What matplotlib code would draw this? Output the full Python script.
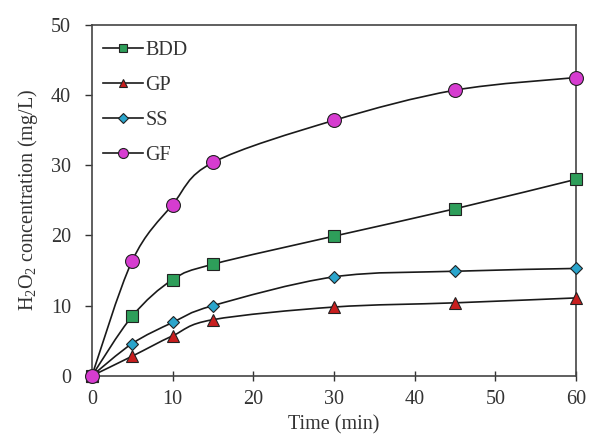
import numpy as np
import matplotlib
matplotlib.use('Agg')
import matplotlib.pyplot as plt
from matplotlib.path import Path
from matplotlib.patches import PathPatch

plt.rcParams['font.family'] = ['Liberation Serif', 'DejaVu Serif']
plt.rcParams['mathtext.fontset'] = 'custom'
plt.rcParams['mathtext.rm'] = 'Liberation Serif'

# dane
czas = [0, 5, 10, 15, 30, 45, 60]
bdd = [0, 8.5, 13.7, 15.9, 19.9, 23.8, 28.0]
gp = [0, 2.8, 5.7, 8.0, 9.8, 10.4, 11.1]
ss = [0, 4.6, 7.6, 10.0, 14.1, 14.9, 15.3]
gf = [0, 16.4, 24.4, 30.4, 36.4, 40.7, 42.5]

serie = [
    ('BDD', bdd, 's', 8, '#2e9e5a'),
    ('GP', gp, '^', 8.5, '#c81e1e'),
    ('SS', ss, 'D', 6.5, '#2aa5cc'),
    ('GF', gf, 'o', 10, '#d63cd0'),
]


def gladka_linia(ax, x, y):
    # wygladzona linia jak w Excelu (krzywe Beziera)
    x = np.asarray(x, float)
    y = np.asarray(y, float)
    verts = [(x[0], y[0])]
    codes = [Path.MOVETO]
    n = len(x)
    for i in range(n - 1):
        x0, y0 = (x[i - 1], y[i - 1]) if i > 0 else (x[i], y[i])
        x3, y3 = (x[i + 2], y[i + 2]) if i + 2 < n else (x[i + 1], y[i + 1])
        c1 = (x[i] + (x[i + 1] - x0) / 6, y[i] + (y[i + 1] - y0) / 6)
        c2 = (x[i + 1] - (x3 - x[i]) / 6, y[i + 1] - (y3 - y[i]) / 6)
        verts += [c1, c2, (x[i + 1], y[i + 1])]
        codes += [Path.CURVE4] * 3
    ax.add_patch(PathPatch(Path(verts, codes), fill=False, lw=1.2,
                           edgecolor='#1a1a1a', zorder=2))


fig = plt.figure(figsize=(5.89, 4.37), dpi=100)
ax = fig.add_axes([0.156, 0.140, 0.822, 0.803])

for nazwa, y, m, ms, kolor in serie:
    gladka_linia(ax, czas, y)
    ax.plot(czas, y, linestyle='none', marker=m, markersize=ms,
            markerfacecolor=kolor, markeredgecolor='#222222',
            markeredgewidth=0.8, zorder=3, clip_on=False)
    # wpis do legendy
    ax.plot([], [], color='#1a1a1a', lw=1.2, marker=m, markersize=ms,
            markerfacecolor=kolor, markeredgecolor='#222222',
            markeredgewidth=0.8, label=nazwa)

ax.set_xlim(0, 60)
ax.set_ylim(0, 50)
ax.set_xticks(range(0, 61, 10))
ax.set_yticks(range(0, 51, 10))
ax.tick_params(labelsize=14.5, width=1, colors='#333333', labelcolor='#333333')
ax.tick_params(axis='x', direction='inout', length=7, pad=7)
ax.tick_params(axis='y', direction='out', length=5, pad=10)
for s in ax.spines.values():
    s.set_color('#444444')
    s.set_linewidth(1.2)

ax.set_xlabel('Time (min)', fontsize=14.5, color='#333333', labelpad=4)
ax.set_ylabel(r'$\mathrm{H_2O_2}$ concentration (mg/L)', fontsize=14.5,
              color='#333333', labelpad=8)

ax.legend(loc='upper left', bbox_to_anchor=(0.0, 0.985), frameon=False,
          fontsize=14.5, handlelength=2.0, handletextpad=0.1,
          labelspacing=0.78, borderaxespad=0.15, markerscale=0.72,
          labelcolor='#333333')

plt.savefig('out.png', dpi=100)
